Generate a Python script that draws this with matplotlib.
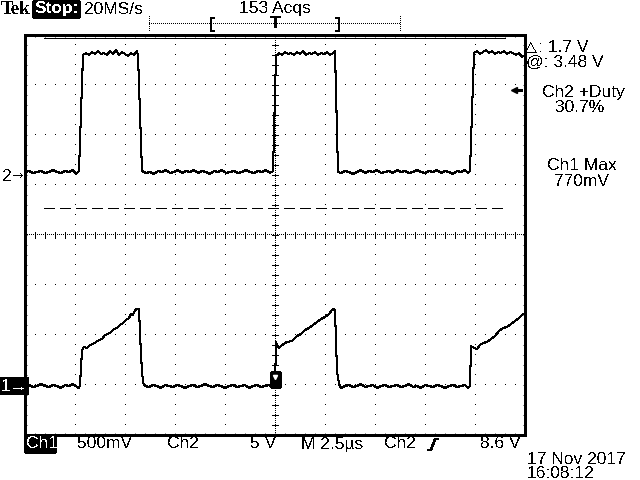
import matplotlib
matplotlib.use('Agg')
import matplotlib.pyplot as plt
from matplotlib.patches import Rectangle
from matplotlib.transforms import blended_transform_factory
import numpy as np

plt.rcParams['font.family'] = ['Liberation Sans', 'DejaVu Sans']
plt.rcParams['text.antialiased'] = False
plt.rcParams['lines.antialiased'] = False
plt.rcParams['patch.antialiased'] = False

# scope settings
time_scale = 2.5     # us/div
ch1_scale = 0.5      # V/div
ch2_scale = 5.0      # V/div
ch1_offset = -3.02   # div, ground marker of ch1
ch2_offset = 1.18    # div, ground marker of ch2
trig_level = 8.6     # V on ch2
cursor_at = 3.48     # V on ch1
cursor_delta = 1.7   # V

# Ch2 trace: (time us, volts)
ch2_pts = [
    (-12.5, 0.4), (-12.3, 0.5), (-12.1, 0.3), (-11.9, 0.4), (-11.7, 0.5), (-11.5, 0.3),
    (-11.3, 0.4), (-11.1, 0.6), (-10.9, 0.4), (-10.7, 0.3), (-10.5, 0.5), (-10.3, 0.4),
    (-10.1, 0.6), (-9.95, 0.2), (-9.8, 0.5),
    (-9.6, 12.1), (-9.45, 12.3), (-9.3, 12.1), (-9.15, 12.4), (-9.0, 12.2), (-8.85, 12.5),
    (-8.7, 12.2), (-8.55, 12.3), (-8.4, 12.1), (-8.25, 12.5), (-8.1, 12.2), (-7.95, 12.6),
    (-7.8, 12.1), (-7.65, 12.4), (-7.5, 12.2), (-7.35, 12.0), (-7.2, 12.3), (-7.05, 12.1),
    (-6.9, 12.5), (-6.85, 12.0),
    (-6.65, 0.5), (-6.45, 0.3), (-6.25, 0.4), (-6.05, 0.2), (-5.85, 0.5), (-5.65, 0.4),
    (-5.45, 0.6), (-5.25, 0.3), (-5.05, 0.4), (-4.85, 0.6), (-4.65, 0.3), (-4.45, 0.5),
    (-4.25, 0.4), (-4.05, 0.6), (-3.85, 0.3), (-3.65, 0.5), (-3.45, 0.4), (-3.25, 0.2),
    (-3.05, 0.5), (-2.85, 0.4), (-2.65, 0.6), (-2.45, 0.3), (-2.25, 0.4), (-2.05, 0.5),
    (-1.85, 0.3), (-1.65, 0.4), (-1.45, 0.6), (-1.25, 0.4), (-1.05, 0.3), (-0.85, 0.5),
    (-0.65, 0.4), (-0.45, 0.6), (-0.25, 0.3), (-0.1, 0.5),
    (0.05, 12.0), (0.2, 12.3), (0.35, 12.1), (0.5, 12.4), (0.65, 12.2), (0.8, 12.3),
    (0.95, 12.1), (1.1, 12.4), (1.25, 12.2), (1.4, 12.5), (1.55, 12.1), (1.7, 12.3),
    (1.85, 12.2), (2.0, 12.4), (2.15, 12.1), (2.3, 12.3), (2.45, 12.2), (2.6, 12.4),
    (2.75, 12.1), (2.9, 12.3), (3.0, 12.5),
    (3.15, 0.4), (3.3, 0.3), (3.5, 0.5), (3.7, 0.4), (3.9, 0.2), (4.1, 0.4), (4.3, 0.6),
    (4.5, 0.3), (4.7, 0.5), (4.9, 0.4), (5.1, 0.6), (5.3, 0.3), (5.5, 0.4), (5.7, 0.5),
    (5.9, 0.3), (6.1, 0.6), (6.3, 0.4), (6.5, 0.5), (6.7, 0.3), (6.9, 0.4), (7.1, 0.6),
    (7.3, 0.4), (7.5, 0.3), (7.7, 0.5), (7.9, 0.4), (8.1, 0.6), (8.3, 0.3), (8.5, 0.5),
    (8.7, 0.4), (8.9, 0.2), (9.1, 0.5), (9.3, 0.4), (9.5, 0.6), (9.65, 0.3), (9.75, 0.5),
    (9.95, 12.3), (10.1, 12.5), (10.25, 12.2), (10.4, 12.4), (10.55, 12.6), (10.7, 12.3),
    (10.85, 12.5), (11.0, 12.2), (11.15, 12.4), (11.3, 12.3), (11.45, 12.5), (11.6, 12.2),
    (11.75, 12.4), (11.9, 12.3), (12.05, 12.1), (12.2, 12.3), (12.35, 11.9), (12.5, 12.1),
]

# Ch1 trace: (time us, volts)
ch1_pts = [
    (-12.5, 0.0), (-12.3, 0.01), (-12.1, -0.01), (-11.9, 0.0), (-11.7, 0.02), (-11.5, 0.0),
    (-11.3, -0.01), (-11.1, 0.01), (-10.9, 0.0), (-10.7, -0.02), (-10.5, 0.01), (-10.3, 0.0),
    (-10.1, 0.02), (-9.9, -0.01), (-9.8, -0.02), (-9.75, 0.01),
    (-9.65, 0.36), (-9.55, 0.39), (-9.4, 0.38), (-9.25, 0.41), (-9.1, 0.42), (-8.95, 0.44),
    (-8.8, 0.46), (-8.65, 0.47), (-8.5, 0.51), (-8.35, 0.52), (-8.2, 0.54), (-8.05, 0.57),
    (-7.9, 0.58), (-7.75, 0.61), (-7.6, 0.63), (-7.45, 0.66), (-7.3, 0.68), (-7.2, 0.72),
    (-7.1, 0.71), (-7.0, 0.76), (-6.9, 0.77), (-6.8, 0.77),
    (-6.7, 0.30), (-6.6, 0.03), (-6.5, 0.0), (-6.3, -0.01), (-6.1, 0.01), (-5.9, 0.0),
    (-5.7, -0.02), (-5.5, 0.01), (-5.3, 0.0), (-5.1, -0.01), (-4.9, 0.01), (-4.7, 0.0),
    (-4.5, -0.02), (-4.3, 0.0), (-4.1, 0.01), (-3.9, -0.01), (-3.7, 0.0), (-3.5, 0.02),
    (-3.3, 0.0), (-3.1, -0.01), (-2.9, 0.01), (-2.7, 0.0), (-2.5, -0.02), (-2.3, 0.0),
    (-2.1, 0.01), (-1.9, -0.01), (-1.7, 0.0), (-1.5, 0.01), (-1.3, -0.02), (-1.1, 0.0),
    (-0.9, 0.01), (-0.7, -0.01), (-0.5, 0.0), (-0.3, 0.01), (-0.15, -0.02), (0.0, 0.0),
    (0.05, 0.44), (0.1, 0.40), (0.2, 0.38), (0.35, 0.41), (0.6, 0.44), (0.85, 0.45),
    (1.1, 0.50), (1.3, 0.52), (1.5, 0.56), (1.7, 0.58), (1.9, 0.61), (2.1, 0.64),
    (2.3, 0.67), (2.5, 0.69), (2.7, 0.72), (2.85, 0.76), (2.95, 0.77), (3.0, 0.75),
    (3.1, 0.15), (3.2, 0.02), (3.3, -0.02), (3.5, 0.0), (3.7, 0.01), (3.9, -0.01),
    (4.1, 0.0), (4.3, 0.02), (4.5, -0.01), (4.7, 0.0), (4.9, 0.01), (5.1, -0.02),
    (5.3, 0.0), (5.5, 0.01), (5.7, -0.01), (5.9, 0.0), (6.1, 0.01), (6.3, -0.01),
    (6.5, 0.0), (6.7, 0.02), (6.9, -0.01), (7.1, 0.0), (7.3, -0.02), (7.5, 0.01),
    (7.7, 0.0), (7.9, -0.01), (8.1, 0.01), (8.3, 0.0), (8.5, -0.02), (8.7, 0.0),
    (8.9, 0.01), (9.1, -0.01), (9.3, 0.0), (9.5, 0.01), (9.65, -0.02), (9.75, 0.0),
    (9.8, 0.40), (9.95, 0.38), (10.1, 0.37), (10.25, 0.41), (10.4, 0.43), (10.6, 0.44),
    (10.8, 0.47), (11.0, 0.50), (11.2, 0.55), (11.4, 0.58), (11.6, 0.59), (11.8, 0.62),
    (12.0, 0.65), (12.2, 0.68), (12.35, 0.71), (12.5, 0.73),
]

ch2_t, ch2_v = np.array(ch2_pts).T
ch1_t, ch1_v = np.array(ch1_pts).T

fig = plt.figure(figsize=(6.4, 4.8), dpi=100)
fig.patch.set_facecolor('white')

# graticule: 10 x 8 divisions
ax = fig.add_axes([25 / 640, 45 / 480, 500 / 640, 400 / 480])
xmax = 5 * time_scale
ax.set_xlim(-xmax, xmax)
ax.set_ylim(-4, 4)
for s in ax.spines.values():
    s.set_linewidth(0.8)
ax.set_xticks(np.arange(-xmax, xmax + 0.01, time_scale / 5))
ax.set_yticks(np.arange(-4, 4.01, 0.2))
ax.tick_params(direction='in', length=1.5, width=0.6, top=True, right=True,
               labelbottom=False, labelleft=False)

# dotted grid
ys = np.arange(-4, 4.01, 0.2)
xs = np.arange(-xmax, xmax + 0.01, time_scale / 5)
for k in range(-4, 5):
    if k == 0:
        continue
    ax.plot(np.full_like(ys, k * time_scale), ys, ls='none', marker=',', color='k')
for k in range(-3, 4):
    if k == 0:
        continue
    ax.plot(xs, np.full_like(xs, k), ls='none', marker=',', color='k')

# centre axes with fine dots and ticks
cx = np.arange(-xmax, xmax + 0.01, time_scale / 25)
cy = np.arange(-4, 4.01, 0.04)
ax.plot(cx, np.zeros_like(cx), ls='none', marker=',', color='k')
ax.plot(np.zeros_like(cy), cy, ls='none', marker=',', color='k')
ax.vlines(xs, -0.06, 0.06, color='k', lw=0.5)
ax.hlines(ys, -0.06 * time_scale, 0.06 * time_scale, color='k', lw=0.5)

# cursors (on ch1)
cur_hi = cursor_at / ch1_scale + ch1_offset
cur_lo = (cursor_at - cursor_delta) / ch1_scale + ch1_offset
ax.hlines(cur_hi, -11.55, 11.5, color='k', lw=0.7)
ax.hlines(cur_lo, -11.55, 11.5, color='k', lw=0.7, linestyles=(0, (11, 5.5)))

# traces
ax.plot(ch2_t, ch2_v / ch2_scale + ch2_offset, color='k', lw=0.75)
ax.plot(ch1_t, ch1_v / ch1_scale + ch1_offset, color='k', lw=0.75)

# trigger level arrow (right edge)
trig_y = trig_level / ch2_scale + ch2_offset
ax.plot([11.95, 12.3], [trig_y, trig_y], color='k', lw=1.0)
ax.plot([11.95], [trig_y], marker='<', ms=5, color='k')

# trigger point marker on ch1
ax.add_patch(Rectangle((-0.2, ch1_offset - 0.02), 0.45, 0.3, color='k', zorder=5))
ax.plot([0.02], [ch1_offset + 0.18], marker='v', ms=3, color='white', zorder=6)

# ground markers left of graticule
fs = 12.5
lt = blended_transform_factory(fig.transFigure, ax.transData)
fig.text(2 / 640, ch2_offset, '2', transform=lt, fontsize=fs, va='center', ha='left')
fig.text(12 / 640, ch2_offset, '\u2192', transform=lt, fontsize=10, va='center', ha='left',
         family='DejaVu Sans')
fig.text(1 / 640, ch1_offset, '1\u2192', transform=lt, fontsize=fs, va='center', ha='left',
         color='white', bbox=dict(facecolor='black', edgecolor='none', pad=0.8))

# overlay in pixel units for the screen annotations
ov = fig.add_axes([0, 0, 1, 1])
ov.set_xlim(0, 640)
ov.set_ylim(480, 0)
ov.axis('off')
ov.patch.set_alpha(0)

ov.text(1, 9, 'Tek', family=['Liberation Serif', 'DejaVu Serif'], fontweight='bold',
        fontsize=13.5, va='center', ha='left')
ov.add_patch(Rectangle((33, 1), 46, 16, color='k'))
ov.text(35, 9, 'Stop:', color='white', fontweight='bold', fontsize=fs, va='center', ha='left')
ov.text(84, 9, '20MS/s', fontsize=fs, va='center', ha='left')
ov.text(275, 9, '153 Acqs', fontsize=fs, va='center', ha='center')

# record / trigger position bar
ov.plot([149, 400], [23, 23], color='k', lw=0.6, ls=(0, (1, 1.5)))
ov.plot([149, 149], [16, 31], color='k', lw=0.6, ls=(0, (1, 1.5)))
ov.plot([400, 400], [16, 31], color='k', lw=0.6, ls=(0, (1, 1.5)))
ov.text(212, 24, '[', fontsize=12.5, fontweight='bold', va='center', ha='center')
ov.text(275, 24, 'T', fontsize=12.5, fontweight='bold', va='center', ha='center')
ov.text(338, 24, ']', fontsize=12.5, fontweight='bold', va='center', ha='center')

# right side readouts
ov.text(525, 47, '\u25b3', family='DejaVu Sans', fontsize=11, va='center', ha='left')
ov.text(538, 47, ': %.1f V' % cursor_delta, fontsize=fs, va='center', ha='left')
ov.text(526, 62, '@: %.2f V' % cursor_at, fontsize=fs, va='center', ha='left')
ov.text(583, 92, 'Ch2 +Duty', fontsize=fs, va='center', ha='center')
ov.text(580, 108, '30.7%', fontsize=fs, va='center', ha='center')
ov.text(582, 165, 'Ch1 Max', fontsize=fs, va='center', ha='center')
ov.text(582, 182, '770mV', fontsize=fs, va='center', ha='center')

# bottom status line
ov.add_patch(Rectangle((25, 436), 30, 16, color='k'))
ov.text(26, 444, 'Ch1', color='white', fontsize=fs, va='center', ha='left')
ov.text(77, 444, '500mV', fontsize=fs, va='center', ha='left')
ov.text(167, 444, 'Ch2', fontsize=fs, va='center', ha='left')
ov.text(250, 444, '5 V', fontsize=fs, va='center', ha='left')
ov.text(301, 444, 'M 2.5\u00b5s', fontsize=fs, va='center', ha='left')
ov.text(384, 444, 'Ch2', fontsize=fs, va='center', ha='left')
ov.plot([428, 431, 435, 438], [450, 450, 439, 439], color='k', lw=1.2)
ov.text(480, 444, '%.1f V' % trig_level, fontsize=fs, va='center', ha='left')
ov.text(527, 459, '17 Nov 2017', fontsize=fs, va='center', ha='left')
ov.text(527, 473, '16:08:12', fontsize=fs, va='center', ha='left')

fig.savefig('out.png', dpi=100)
